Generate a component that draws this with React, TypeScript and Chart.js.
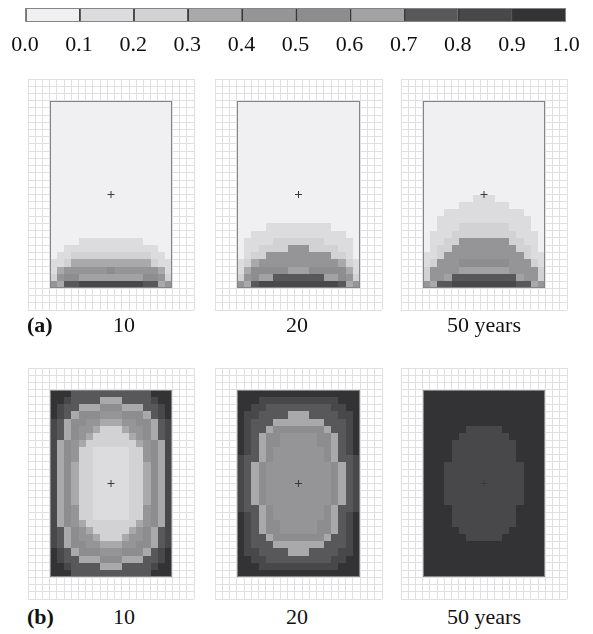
import React, { useEffect, useRef } from "react";
import { Chart, registerables } from "chart.js";

Chart.register(...registerables);

// Grey level for each 0.1-wide band of the fraction
const BIN_COLOURS = [
  "#f0f0f2", "#dcdcde", "#d2d2d4", "#a9a9ab", "#959597",
  "#8d8d8f", "#a2a2a4", "#58585a", "#48484a", "#333335",
];
const BIN_EDGES = [0, 0.1, 0.2, 0.3, 0.4, 0.5, 0.6, 0.7, 0.8, 0.9, 1.0];
const BIN_LABELS = ["0.0", "0.1", "0.2", "0.3", "0.4", "0.5", "0.6", "0.7", "0.8", "0.9", "1.0"];

const ROW_TAGS = ["(a)", "(b)"];
const CAPTIONS = ["10", "20", "50 years"];

// Centre of the 17 x 26 cell domain
const CENTRE = [{ x: 8.5, y: 13 }];

// Band index per cell, one string per model row (top to bottom)
const A_10 = [
  "00000000000000000", "00000000000000000", "00000000000000000", "00000000000000000",
  "00000000000000000", "00000000000000000", "00000000000000000", "00000000000000000",
  "00000000000000000", "00000000000000000", "00000000000000000", "00000000000000000",
  "00000000000000000", "00000000000000000", "00000000000000000", "00000000000000000",
  "00000000000000000", "00000000000000000", "00000000000000000",
  "00001111111110000",
  "00111111111111100",
  "01122222222222110",
  "11233333333333211",
  "13444444544444431",
  "24556666666665542",
  "43778888888887734",
];

const A_20 = [
  "00000000000000000", "00000000000000000", "00000000000000000", "00000000000000000",
  "00000000000000000", "00000000000000000", "00000000000000000", "00000000000000000",
  "00000000000000000", "00000000000000000", "00000000000000000", "00000000000000000",
  "00000000000000000", "00000000000000000", "00000000000000000", "00000000000000000",
  "00000000000000000",
  "00001111111110000",
  "00111111111111100",
  "01111222222211110",
  "01122224442222110",
  "01224444444442210",
  "12344444444444321",
  "13555556665555531",
  "24566777777766542",
  "43788888888888734",
];

const A_50 = [
  "00000000000000000", "00000000000000000", "00000000000000000", "00000000000000000",
  "00000000000000000", "00000000000000000", "00000000000000000", "00000000000000000",
  "00000000000000000", "00000000000000000", "00000000000000000", "00000000000000000",
  "00000000000000000",
  "00000001110000000",
  "00000111111100000",
  "00011111111111000",
  "00111111111111100",
  "00111222222211100",
  "01112222222221110",
  "01122444444422110",
  "01224444444442210",
  "11244444444444211",
  "12444555555544421",
  "24444666666644442",
  "24467777777776442",
  "43778888888887734",
];

const B_10 = [
  "99977777777777999",
  "99877773337777899",
  "98773335553337789",
  "98735554445553789",
  "87355443334455378",
  "87354432223445378",
  "87354322222345378",
  "83543222222234538",
  "83542211111224538",
  "83542211111224538",
  "83532211111223538",
  "83532211111223538",
  "83532211111223538",
  "83532211111223538",
  "83532211111223538",
  "83532211111223538",
  "83542211111224538",
  "83542211111224538",
  "83543222222234538",
  "87354322222345378",
  "87354432223445378",
  "87355443334455378",
  "98735554445553789",
  "98773335553337789",
  "99877773337777899",
  "99977777777777999",
];

const B_20 = [
  "99999999999999999",
  "99988888888888999",
  "99887777777778899",
  "98877773337777889",
  "98777333333377789",
  "98773555555537789",
  "98735544444553789",
  "98735544444553789",
  "98735444444453789",
  "87735444444453778",
  "87354444444445378",
  "87354444444445378",
  "87354444444445378",
  "87354444444445378",
  "87354444444445378",
  "87354444444445378",
  "87735444444453778",
  "98735444444453789",
  "98735544444553789",
  "98735544444553789",
  "98773555555537789",
  "98777333333377789",
  "98877773337777889",
  "99887777777778899",
  "99988888888888999",
  "99999999999999999",
];

const B_50 = [
  "99999999999999999",
  "99999999999999999",
  "99999999999999999",
  "99999999999999999",
  "99999999999999999",
  "99999988888999999",
  "99999888888899999",
  "99998888888889999",
  "99998888888889999",
  "99998888888889999",
  "99988888888888999",
  "99988888888888999",
  "99988888888888999",
  "99988888888888999",
  "99988888888888999",
  "99988888888888999",
  "99998888888889999",
  "99998888888889999",
  "99998888888889999",
  "99999888888899999",
  "99999988888999999",
  "99999999999999999",
  "99999999999999999",
  "99999999999999999",
  "99999999999999999",
  "99999999999999999",
];

const PANELS = [
  [A_10, A_20, A_50],
  [B_10, B_20, B_50],
];

// Layout
const SERIF = "'Liberation Serif', 'Times New Roman', serif";
const COLS = 17;
const ROWS = 26;
const MARGIN = 3;
const CELL_W = 7.44;
const CELL_H = 7.38;
const PANEL_LEFT = [47.4, 235.3, 420.7];
const PANEL_TOP = [98.3, 387.5];
const CAPTION_X = [124, 297, 484];
const CAPTION_Y = [325, 617];
const GRID_COLOUR = "#e0e0e2";
const OUTLINE = "#858587";

const cellPlugin = (rows: string[]) => ({
  id: "cells",
  beforeDatasetsDraw(chart: any) {
    const { ctx } = chart;
    const xs = chart.scales.x;
    const ys = chart.scales.y;
    ctx.save();
    rows.forEach((row, r) => {
      for (let c = 0; c < row.length; c++) {
        const x0 = Math.round(xs.getPixelForValue(c));
        const x1 = Math.round(xs.getPixelForValue(c + 1));
        const y0 = Math.round(ys.getPixelForValue(r));
        const y1 = Math.round(ys.getPixelForValue(r + 1));
        ctx.fillStyle = BIN_COLOURS[Number(row[c])];
        ctx.fillRect(x0, Math.min(y0, y1), x1 - x0, Math.abs(y1 - y0));
      }
    });
    const l = Math.round(xs.getPixelForValue(0));
    const rr = Math.round(xs.getPixelForValue(COLS));
    const t = Math.round(ys.getPixelForValue(0));
    const b = Math.round(ys.getPixelForValue(ROWS));
    ctx.strokeStyle = OUTLINE;
    ctx.lineWidth = 1;
    ctx.strokeRect(l + 0.5, t + 0.5, rr - l - 1, b - t - 1);
    ctx.restore();
  },
});

function Panel({ rows, left, top }: { rows: string[]; left: number; top: number }) {
  const ref = useRef<HTMLCanvasElement>(null);
  const gridLeft = left - MARGIN * CELL_W;
  const gridTop = top - MARGIN * CELL_H;
  const gridW = (COLS + 2 * MARGIN) * CELL_W;
  const gridH = (ROWS + 2 * MARGIN) * CELL_H;
  const cLeft = Math.floor(gridLeft) - 2;
  const cTop = Math.floor(gridTop) - 2;
  const cW = Math.ceil(gridLeft + gridW) + 2 - cLeft;
  const cH = Math.ceil(gridTop + gridH) + 2 - cTop;

  useEffect(() => {
    if (!ref.current) return;
    const axis = (min: number, max: number, reverse: boolean) => ({
      type: "linear" as const,
      min,
      max,
      reverse,
      ticks: { display: false, stepSize: 1, maxTicksLimit: 100 },
      grid: { color: GRID_COLOUR, lineWidth: 1, drawTicks: false },
      border: { display: false },
    });
    const chart = new Chart(ref.current, {
      type: "scatter",
      data: {
        datasets: [
          {
            data: CENTRE,
            pointStyle: "cross",
            pointRadius: 3.5,
            borderColor: "#3a3a3c",
            borderWidth: 1,
            backgroundColor: "transparent",
          },
        ],
      },
      options: {
        responsive: false,
        animation: false,
        devicePixelRatio: 1,
        events: [],
        layout: {
          padding: {
            left: gridLeft - cLeft,
            top: gridTop - cTop,
            right: cLeft + cW - (gridLeft + gridW),
            bottom: cTop + cH - (gridTop + gridH),
          },
        },
        plugins: { legend: { display: false }, tooltip: { enabled: false } },
        scales: {
          x: axis(-MARGIN, COLS + MARGIN, false),
          y: axis(-MARGIN, ROWS + MARGIN, true),
        },
      },
      plugins: [cellPlugin(rows)],
    } as any);
    return () => chart.destroy();
  }, []);

  return (
    <canvas
      ref={ref}
      width={cW}
      height={cH}
      style={{ position: "absolute", left: cLeft, top: cTop, width: cW, height: cH }}
    />
  );
}

const outlinePlugin = {
  id: "barOutline",
  afterDatasetsDraw(chart: any) {
    const { ctx, chartArea } = chart;
    ctx.save();
    ctx.strokeStyle = OUTLINE;
    ctx.lineWidth = 1;
    ctx.strokeRect(
      Math.round(chartArea.left) + 0.5,
      Math.round(chartArea.top) + 0.5,
      Math.round(chartArea.right - chartArea.left) - 1,
      Math.round(chartArea.bottom - chartArea.top) - 1
    );
    ctx.restore();
  },
};

function ColourBar() {
  const ref = useRef<HTMLCanvasElement>(null);
  useEffect(() => {
    if (!ref.current) return;
    const chart = new Chart(ref.current, {
      type: "bar",
      data: {
        labels: ["fraction"],
        datasets: BIN_COLOURS.map((colour, i) => ({
          data: [[BIN_EDGES[i], BIN_EDGES[i + 1]]],
          backgroundColor: colour,
          borderColor: "#39393b",
          borderWidth: { left: 2, right: 0, top: 0, bottom: 0 },
          borderSkipped: false,
          grouped: false,
          barPercentage: 1,
          categoryPercentage: 1,
        })),
      },
      options: {
        indexAxis: "y",
        responsive: false,
        animation: false,
        devicePixelRatio: 1,
        events: [],
        layout: { padding: { left: 25, right: 27, top: 8, bottom: 0 } },
        plugins: { legend: { display: false }, tooltip: { enabled: false } },
        scales: {
          x: {
            type: "linear",
            min: 0,
            max: 1,
            afterFit: (scale: any) => {
              scale.height = 40;
            },
            ticks: {
              stepSize: 0.1,
              autoSkip: false,
              maxRotation: 0,
              padding: 10,
              color: "#111",
              font: { family: SERIF, size: 22 },
              callback: (_v: any, i: number) => BIN_LABELS[i],
            },
            grid: { display: false, drawTicks: false },
            border: { display: false },
          },
          y: { display: false },
        },
      },
      plugins: [outlinePlugin],
    } as any);
    return () => chart.destroy();
  }, []);
  return (
    <canvas
      ref={ref}
      width={593}
      height={62}
      style={{ position: "absolute", left: 0, top: 0, width: 593, height: 62 }}
    />
  );
}

export default function App() {
  const text: React.CSSProperties = {
    position: "absolute",
    fontFamily: SERIF,
    fontSize: 22,
    lineHeight: "26px",
    color: "#111",
    whiteSpace: "nowrap",
  };
  return (
    <div
      style={{
        position: "absolute",
        left: 0,
        top: 0,
        width: 593,
        height: 634,
        background: "#fff",
        overflow: "hidden",
      }}
    >
      <ColourBar />
      {PANELS.map((row, ri) =>
        row.map((rows, ci) => (
          <Panel key={`${ri}-${ci}`} rows={rows} left={PANEL_LEFT[ci]} top={PANEL_TOP[ri]} />
        ))
      )}
      {ROW_TAGS.map((tag, ri) => (
        <React.Fragment key={tag}>
          <div style={{ ...text, left: 27, top: CAPTION_Y[ri] - 13, fontWeight: "bold" }}>{tag}</div>
          {CAPTIONS.map((cap, ci) => (
            <div
              key={cap}
              style={{ ...text, left: CAPTION_X[ci] - 100, width: 200, textAlign: "center", top: CAPTION_Y[ri] - 13 }}
            >
              {cap}
            </div>
          ))}
        </React.Fragment>
      ))}
    </div>
  );
}
